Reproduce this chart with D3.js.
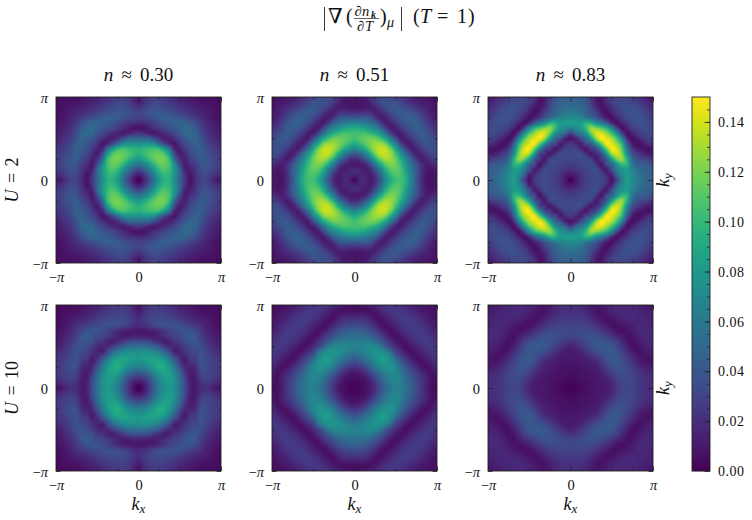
<!DOCTYPE html>
<html><head><meta charset="utf-8">
<script src="https://cdn.jsdelivr.net/npm/d3@7"></script>
<style>
html,body{margin:0;padding:0;background:#fff}
svg{display:block}
text{font-family:"Liberation Serif","DejaVu Serif",serif;fill:#111}
</style></head><body>
<svg id="c" width="752" height="520"></svg>
<script>
// Values, in units of 0.001. The picture has the symmetry of the
// square, so each panel lists one eighth: row j holds k-index i = 0..j, index 16 = pi.
const panelU2N030 = [
[0],[12,22],[32,41,60],[58,64,78,98],[80,88,100,112,118],[95,100,108,113,116,108],
[94,97,100,104,100,80,55],[72,76,76,71,50,34,16,8],[46,49,47,34,22,12,14,22,30],
[24,20,14,10,14,18,25,32,40,50],[8,8,14,20,26,32,36,40,45,50,47],
[18,20,22,26,32,38,42,45,47,47,42,34],[28,30,33,37,42,44,44,42,39,35,30,25,20],
[30,33,38,40,40,38,36,33,29,25,21,18,15,13],[22,27,32,36,35,33,30,26,22,19,16,13,11,10,9],
[12,20,27,30,30,27,24,20,17,14,12,10,8,7,6,6],[10,18,25,28,27,24,21,17,14,11,9,7,6,5,5,4,4]];
const panelU2N051 = [
[3],[14,16],[17,15,12],[10,12,16,32],[18,22,38,58,90],[40,48,62,88,116,135],
[68,78,91,112,128,136,135],[90,99,110,120,127,128,118,90],[103,109,113,116,115,105,87,62,35],
[104,105,105,100,92,78,55,30,12,12],[92,90,85,76,68,52,30,12,14,24,33],
[66,64,60,55,46,28,12,14,24,33,40,44],[40,42,42,38,24,12,14,24,33,40,44,44,40],
[20,20,22,20,12,15,24,33,40,42,42,38,32,25],[8,9,11,12,16,25,33,38,40,38,33,27,22,18,15],
[8,8,9,15,24,32,36,37,36,30,24,19,15,12,10,9],[10,9,12,20,28,33,34,33,30,25,20,15,11,9,7,6,5]];
const panelU2N083 = [
[0],[10,13],[20,22,26],[27,28,30,32],[31,31,32,33,28],[33,33,34,22,10,20],
[30,30,18,8,25,32,70],[24,18,12,34,42,78,115,148],[8,14,36,50,82,125,148,142,130],
[30,49,62,78,115,140,140,125,105,70],[62,72,78,100,125,120,110,95,65,30,6],
[82,82,81,95,92,72,58,42,18,6,15,25],[72,70,67,59,51,39,25,12,6,16,26,33,36],
[62,60,55,46,37,27,12,6,14,24,31,36,38,36],[54,52,48,44,32,18,8,10,20,29,34,36,36,33,28],
[47,47,45,40,28,12,7,18,27,32,34,33,30,26,22,17],[45,45,43,36,24,10,8,20,28,32,32,30,26,21,16,11,7]];
const panelU10N030 = [
[0],[8,13],[24,28,38],[44,47,55,70],[62,65,72,82,92],[74,77,82,87,89,86],
[79,82,83,83,79,69,50],[72,74,72,68,60,48,33,12],[55,55,52,47,38,27,18,16,18],
[34,33,31,22,18,12,14,22,26,36],[14,14,12,12,14,20,26,30,33,38,42],
[10,10,12,14,18,24,28,33,37,38,38,32],[18,20,25,30,34,36,37,36,35,32,28,24,20],
[20,24,30,33,35,34,33,31,28,24,20,17,14,12],[16,22,28,30,31,30,28,25,21,18,15,12,10,9,8],
[10,17,24,27,27,26,23,20,16,13,11,9,7,6,5,5],[8,15,22,25,25,23,20,16,13,10,8,6,5,4,4,3,3]];
const panelU10N051 = [
[2],[3,4],[6,7,9],[10,12,19,30],[20,24,32,44,60],[34,38,46,57,68,80],
[48,53,58,67,75,80,80],[58,62,67,72,77,75,67,52],[64,67,69,70,69,61,44,28,18],
[63,62,63,60,54,42,30,20,10,6],[54,54,50,46,38,30,20,10,6,10,16],
[46,44,42,36,28,18,10,6,10,16,21,24],[34,33,31,26,18,10,6,10,15,20,23,25,24],
[24,23,22,17,10,6,10,15,20,24,26,25,22,18],[12,14,14,10,6,10,15,20,23,25,24,21,18,14,12],
[6,6,6,7,10,15,20,23,24,23,20,16,13,10,8,7],[5,6,8,12,16,20,23,24,23,20,17,13,10,8,6,5,4]];
const panelU10N083 = [
[1],[2,3],[4,5,6],[6,6,7,8],[7,7,8,9,11],[9,9,10,11,13,16],
[10,10,11,14,19,25,30],[11,12,15,21,27,34,38,41],[14,17,22,28,34,39,42,41,40],
[23,25,29,34,38,40,39,36,32,28],[30,31,33,36,37,36,33,28,22,16,12],
[32,32,33,33,32,29,25,19,13,8,6,8],[30,30,30,29,26,22,17,11,7,6,8,11,13],
[26,26,26,24,20,15,10,7,7,10,13,15,16,16],[22,22,22,19,15,10,7,8,11,14,16,17,17,16,15],
[20,20,19,16,12,8,8,11,14,16,17,17,16,15,13,12],[19,19,18,15,11,8,9,12,15,16,17,16,15,13,11,9,8]];

const fillings = ["0.30","0.51","0.83"];
const couplings = ["2","10"];
const panels = [[panelU2N030,panelU2N051,panelU2N083],[panelU10N030,panelU10N051,panelU10N083]];
const colorbarTicks = [0,0.02,0.04,0.06,0.08,0.10,0.12,0.14];
const colorbarMax = 0.15;
const colX = [56,272,488], rowY = [97,305], W = 165, H = 166;
const PI = Math.PI;

const svg = d3.select("#c");
const color = d3.scaleSequential(d3.interpolateViridis).domain([0,colorbarMax]);
const SERIF = '"Liberation Serif","DejaVu Serif",serif';

function at(tri,i,j){
  i = Math.max(0,Math.min(32,i)); j = Math.max(0,Math.min(32,j));
  const a = Math.abs(i-16), b = Math.abs(j-16);
  return tri[Math.max(a,b)][Math.min(a,b)]/1000;
}
function cr(p0,p1,p2,p3,t){
  return p1 + 0.5*t*(p2-p0 + t*(2*p0-5*p1+4*p2-p3 + t*(3*(p1-p2)+p3-p0)));
}
function sample(tri,u,v){
  const i = Math.floor(u), j = Math.floor(v), s = u-i, t = v-j, r = [];
  for(let n=-1;n<=2;n++) r.push(cr(at(tri,i-1,j+n),at(tri,i,j+n),at(tri,i+1,j+n),at(tri,i+2,j+n),s));
  return cr(r[0],r[1],r[2],r[3],t);
}
function heat(tri,x,y,w,h){
  const cv = document.createElement("canvas"); cv.width=w; cv.height=h;
  const ctx = cv.getContext("2d");
  const toIdx = d3.scaleLinear().domain([-PI,PI]).range([0,32]);
  for(let py=0;py<h;py++) for(let px=0;px<w;px++){
    const v = sample(tri,toIdx(x.invert(px+0.5)),toIdx(y.invert(py+0.5)));
    ctx.fillStyle = color(Math.max(0,Math.min(colorbarMax,v)));
    ctx.fillRect(px,py,1,1);
  }
  return cv.toDataURL();
}
function piLabel(sel,v){
  sel.text(null);
  if(v===0){sel.text("0");return;}
  if(v<0) sel.append("tspan").text("−");
  sel.append("tspan").attr("font-style","italic").text("π");
}
function style(ax){
  ax.select(".domain").remove();
  ax.selectAll("line").attr("stroke","#222").attr("stroke-width",0.8);
  ax.selectAll("text").attr("font-family",SERIF).attr("font-size",14.5).attr("fill","#111");
}
const maj=[-PI,0,PI], mnr=d3.range(-3,4).map(d=>d*PI/4).filter(d=>Math.abs(d)>0.01);

panels.forEach((row,r)=>row.forEach((tri,c)=>{
  const x = d3.scaleLinear().domain([-PI,PI]).range([0,W]);
  const y = d3.scaleLinear().domain([-PI,PI]).range([H,0]);
  const g = svg.append("g").attr("transform",`translate(${colX[c]},${rowY[r]})`);
  g.append("image").attr("width",W).attr("height",H).attr("href",heat(tri,x,y,W,H));
  const gen = [
    [d3.axisBottom(x),`translate(0,${H})`],[d3.axisTop(x),null],
    [d3.axisLeft(y),null],[d3.axisRight(y),`translate(${W},0)`]];
  gen.forEach(([a],k)=>{
    g.append("g").attr("transform",gen[k][1]).call(a.tickValues(mnr).tickSize(-2.5).tickFormat("")).call(style);
    const lab = k===0||k===2;
    const m = g.append("g").attr("transform",gen[k][1]).call(a.tickValues(maj).tickSize(-4.5).tickPadding(0).tickFormat(d=>d)).call(style);
    if(lab) m.selectAll("text").each(function(d){piLabel(d3.select(this),d);});
    else m.selectAll("text").remove();
    if(k===0) m.selectAll("text").attr("dy",null).attr("y",19);
    if(k===2) m.selectAll("text").attr("dy",null).attr("y",5).attr("x",-8);
  });
  g.append("rect").attr("width",W).attr("height",H).attr("fill","none").attr("stroke","#222").attr("stroke-width",0.9);
}));

// column titles
fillings.forEach((f,c)=>{
  const t = svg.append("text").attr("x",colX[c]+W/2).attr("y",80.5).attr("text-anchor","middle").attr("font-size",19).attr("word-spacing",3.5);
  t.append("tspan").attr("font-style","italic").text("n");
  t.append("tspan").text(" ≈ "+f);
});
// row labels
couplings.forEach((u,r)=>{
  const cy = rowY[r]+H/2;
  const t = svg.append("text").attr("transform",`translate(18,${cy}) rotate(-90)`).attr("text-anchor","middle").attr("font-size",18).attr("word-spacing",2);
  t.append("tspan").attr("font-style","italic").text("U");
  t.append("tspan").text(" = "+u);
  const k = svg.append("text").attr("transform",`translate(669,${cy}) rotate(-90)`).attr("text-anchor","middle").attr("font-size",18);
  k.append("tspan").attr("font-style","italic").text("k");
  k.append("tspan").attr("font-style","italic").attr("font-size",13).attr("dy",3).text("y");
});
colX.forEach(cx=>{
  const k = svg.append("text").attr("x",cx+W/2).attr("y",510).attr("text-anchor","middle").attr("font-size",18);
  k.append("tspan").attr("font-style","italic").text("k");
  k.append("tspan").attr("font-style","italic").attr("font-size",13).attr("dy",3).text("x");
});

// colorbar
const cbY = d3.scaleLinear().domain([0,colorbarMax]).range([471,97]);
const cb = svg.append("g").attr("transform","translate(692,0)");
cb.selectAll("rect.s").data(d3.range(0,374)).join("rect").attr("class","s")
  .attr("x",0).attr("width",18).attr("y",d=>97+d).attr("height",1.2)
  .attr("fill",d=>color(cbY.invert(97+d+0.5)));
cb.append("g").attr("transform","translate(18,0)")
  .call(d3.axisRight(cbY).tickValues(d3.range(1,30).map(d=>d*0.005)).tickSize(-3).tickFormat("")).call(style);
const cbMajor = cb.append("g").attr("transform","translate(18,0)")
  .call(d3.axisRight(cbY).tickValues(colorbarTicks).tickSize(-5.5).tickPadding(8).tickFormat(d3.format(".2f"))).call(style);
cbMajor.selectAll("text").attr("font-size",14).attr("letter-spacing",0.5).attr("dy",null).attr("y",4.7);
cb.append("rect").attr("width",18).attr("y",97).attr("height",374).attr("fill","none").attr("stroke","#222").attr("stroke-width",0.9);

// figure title
const T = svg.append("g");
function tx(x,y,s,size,opts={}){
  const e=T.append("text").attr("x",x).attr("y",y).attr("font-size",size).text(s);
  if(opts.i) e.attr("font-style","italic");
  if(opts.b) e.attr("font-weight","bold");
  return e;
}
T.append("line").attr("x1",324.5).attr("x2",324.5).attr("y1",7).attr("y2",31).attr("stroke","#222").attr("stroke-width",0.9);
T.append("line").attr("x1",401.5).attr("x2",401.5).attr("y1",7).attr("y2",31).attr("stroke","#222").attr("stroke-width",0.9);
tx(328,23,"∇",21);
tx(346,23,"(",20);
tx(354.5,15.5,"∂",14.5);
tx(362,15.5,"n",14.5,{i:1});
tx(371,17.5,"k",10,{b:1,i:1});
T.append("line").attr("x1",354).attr("x2",379).attr("y1",18.5).attr("y2",18.5).attr("stroke","#222").attr("stroke-width",0.7);
tx(357,30.5,"∂",14.5);
tx(365,30.5,"T",14.5,{i:1});
tx(380,23,")",20);
tx(387,27,"μ",14,{i:1});
tx(413,23,"(",20);
tx(420,23,"T",20,{i:1});
tx(437,23,"=",20);
tx(457,23,"1",20);
tx(468,23,")",20);
</script>
</body></html>
